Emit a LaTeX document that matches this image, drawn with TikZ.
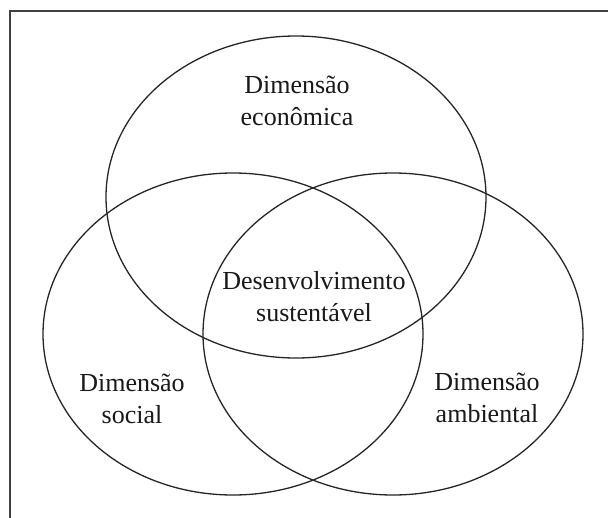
\documentclass[tikz,border=0pt]{standalone}
\usepackage{fontspec}
\setmainfont{Liberation Serif}
\begin{document}
\begin{tikzpicture}[x=1pt,y=-1pt,
  ring/.style={draw=black!85, line width=1.3pt},
  lbl/.style={align=center, font=\fontsize{26}{32}\selectfont, text=black!90, inner sep=0pt},
  frame/.style={draw=black!75, line width=2pt}]
\useasboundingbox (0,0) rectangle (608,517);
\clip (0,0) rectangle (608,517);
\fill[white] (0,0) rectangle (608,517);
\draw[frame] (10,530) -- (10,11) -- (620,11);
\draw[ring] (296,197) ellipse [x radius=190, y radius=161];
\draw[ring] (233,334) ellipse [x radius=190, y radius=161];
\draw[ring] (393,334) ellipse [x radius=190, y radius=161];
\node[lbl] (eco) at (297,101) {Dimensão\\econômica};
\node[lbl] (sus) at (314,297) {Desenvolvimento\\sustentável};
\node[lbl] (soc) at (132,399) {Dimensão\\social};
\node[lbl] (amb) at (487,398) {Dimensão\\ambiental};
\end{tikzpicture}
\end{document}
